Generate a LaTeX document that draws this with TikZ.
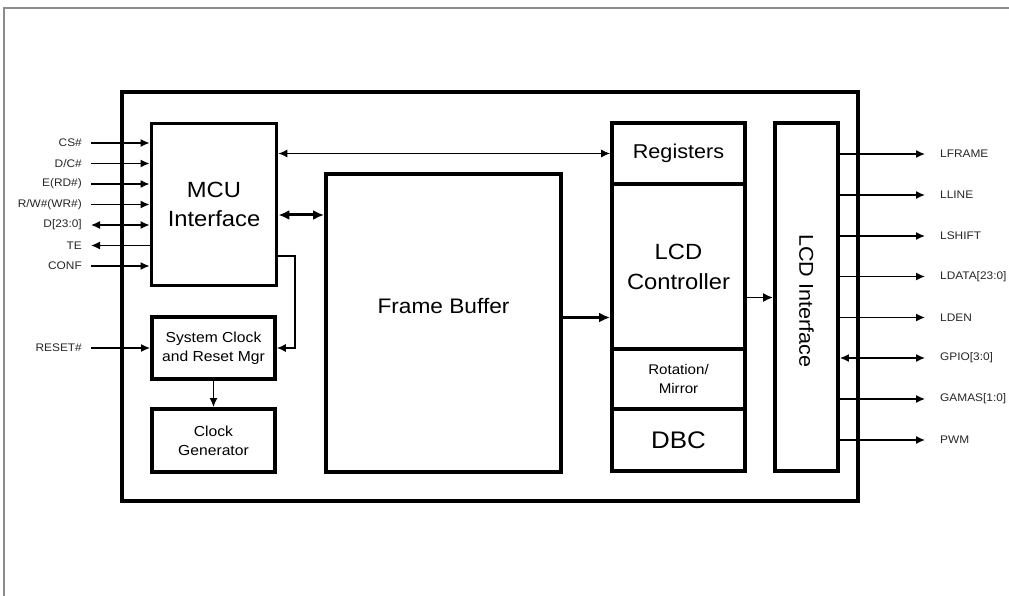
\documentclass[tikz,border=0pt]{standalone}
\usepackage{fontspec}
\setmainfont{Liberation Sans}[FakeStretch=1.08]
\usetikzlibrary{arrows.meta}
\begin{document}
\begin{tikzpicture}[x=1pt,y=-1pt,
  blk/.style={draw, line width=3.8pt, fill=white, align=center, inner sep=0pt},
  conn/.style={line width=1.4pt},
  bus/.style={line width=3pt},
  tip/.style={-{Latex[length=9pt,width=8pt]}},
  btip/.style={{Latex[length=9pt,width=8pt]}-{Latex[length=9pt,width=8pt]}},
  bigtip/.style={-{Latex[length=11pt,width=10pt]}},
  bigbtip/.style={{Latex[length=11pt,width=10pt]}-{Latex[length=11pt,width=10pt]}},
  sig/.style={font=\fontsize{11}{13}\selectfont, inner sep=2pt, text=black!85}
]
\useasboundingbox (0,0) rectangle (1009,596);
% outer partial frame
\draw[black!45, line width=1.5pt] (4,596) -- (4,8) -- (1009,8);
% main chip box
\node[draw, line width=4.2pt, minimum width=736pt, minimum height=409pt] (main) at (490,296.5) {};
% blocks
\node[blk, minimum width=125pt, minimum height=162pt, font=\fontsize{22}{29}\selectfont] (mcu) at (214,204.5) {MCU\\Interface};
\node[blk, minimum width=123pt, minimum height=62pt, font=\fontsize{14.5}{19}\selectfont] (sys) at (213.5,348) {System Clock\\and Reset Mgr};
\node[blk, minimum width=123pt, minimum height=63pt, font=\fontsize{14.5}{19}\selectfont] (clk) at (213.5,440.5) {Clock\\Generator};
\node[blk, minimum width=235pt, minimum height=298pt] (fb) at (443.5,323) {};
\node[font=\fontsize{21}{25}\selectfont, inner sep=0pt] (fbt) at (443.5,306) {Frame Buffer};
\node[blk, minimum width=133pt, minimum height=61pt, font=\fontsize{20}{24}\selectfont] (reg) at (678.5,153.5) {Registers};
\node[blk, minimum width=133pt, minimum height=165pt, font=\fontsize{22}{30}\selectfont] (lcdc) at (678.5,266.5) {LCD\\Controller};
\node[blk, minimum width=133pt, minimum height=60pt, font=\fontsize{14}{19}\selectfont] (rot) at (678.5,379) {Rotation/\\Mirror};
\node[blk, minimum width=133pt, minimum height=62pt, font=\fontsize{24}{28}\selectfont] (dbc) at (678.5,440) {DBC};
\node[blk, minimum width=63pt, minimum height=348pt] (lcdi) at (806.5,297) {};
\node[font=\fontsize{20}{24}\selectfont, rotate=-90, inner sep=0pt] (lcdit) at (806.5,301) {LCD Interface};
% left signals
\node[sig,anchor=east] (lcs) at (84,143) {CS\#};
\node[sig,anchor=east] (ldc) at (84,163.5) {D/C\#};
\node[sig,anchor=east] (lrd) at (84,184) {E(RD\#)};
\node[sig,anchor=east] (lwr) at (84,204.5) {R/W\#(WR\#)};
\node[sig,anchor=east] (ld) at (84,225) {D[23:0]};
\node[sig,anchor=east] (lte) at (84,245.5) {TE};
\node[sig,anchor=east] (lconf) at (84,266) {CONF};
\node[sig,anchor=east] (lreset) at (84,348) {RESET\#};
\draw[conn,tip,shorten <=7pt] (lcs.east) -- (lcs.east -| mcu.west);
\draw[conn,tip,shorten <=7pt] (ldc.east) -- (ldc.east -| mcu.west);
\draw[conn,tip,shorten <=7pt] (lrd.east) -- (lrd.east -| mcu.west);
\draw[conn,tip,shorten <=7pt] (lwr.east) -- (lwr.east -| mcu.west);
\draw[conn,btip,shorten <=7pt] (ld.east) -- (ld.east -| mcu.west);
\draw[conn,tip,shorten >=7pt] (lte.east -| mcu.west) -- (lte.east);
\draw[conn,tip,shorten <=7pt] (lconf.east) -- (lconf.east -| mcu.west);
\draw[conn,tip,shorten <=7pt] (lreset.east) -- (sys.west);
% right signals
\node[sig,anchor=west] (rframe) at (938,154) {LFRAME};
\node[sig,anchor=west] (rline) at (938,195) {LLINE};
\node[sig,anchor=west] (rshift) at (938,236) {LSHIFT};
\node[sig,anchor=west] (rdata) at (938,276.5) {LDATA[23:0]};
\node[sig,anchor=west] (rden) at (938,317.5) {LDEN};
\node[sig,anchor=west] (rgpio) at (938,358) {GPIO[3:0]};
\node[sig,anchor=west] (rgamas) at (938,399) {GAMAS[1:0]};
\node[sig,anchor=west] (rpwm) at (938,440) {PWM};
\draw[conn,tip,shorten >=13pt] (rframe.west -| lcdi.east) -- (rframe.west);
\draw[conn,tip,shorten >=13pt] (rline.west -| lcdi.east) -- (rline.west);
\draw[conn,tip,shorten >=13pt] (rshift.west -| lcdi.east) -- (rshift.west);
\draw[conn,tip,shorten >=13pt] (rdata.west -| lcdi.east) -- (rdata.west);
\draw[conn,tip,shorten >=13pt] (rden.west -| lcdi.east) -- (rden.west);
\draw[conn,btip,shorten >=13pt] (rgpio.west -| lcdi.east) -- (rgpio.west);
\draw[conn,tip,shorten >=13pt] (rgamas.west -| lcdi.east) -- (rgamas.west);
\draw[conn,tip,shorten >=13pt] (rpwm.west -| lcdi.east) -- (rpwm.west);
% internal connectors
\draw[line width=1.1pt,btip] (mcu.east |- reg.west) -- (reg.west);
\coordinate (b1) at (0,215);
\draw[bus,bigbtip] (mcu.east |- b1) -- (fb.west |- b1);
\coordinate (b2) at (0,317.5);
\draw[bus,bigtip] (fb.east |- b2) -- (lcdc.west |- b2);
\coordinate (b3) at (0,297.5);
\draw[line width=1.8pt,-{Latex[length=10pt,width=9pt]}] (lcdc.east |- b3) -- (lcdi.west |- b3);
\draw[conn,tip] (sys.south) -- (clk.north);
\coordinate (bend) at (295,256);
\draw[line width=1.1pt,tip] (mcu.east |- bend) -- (bend) |- (sys.east);
\end{tikzpicture}
\end{document}
